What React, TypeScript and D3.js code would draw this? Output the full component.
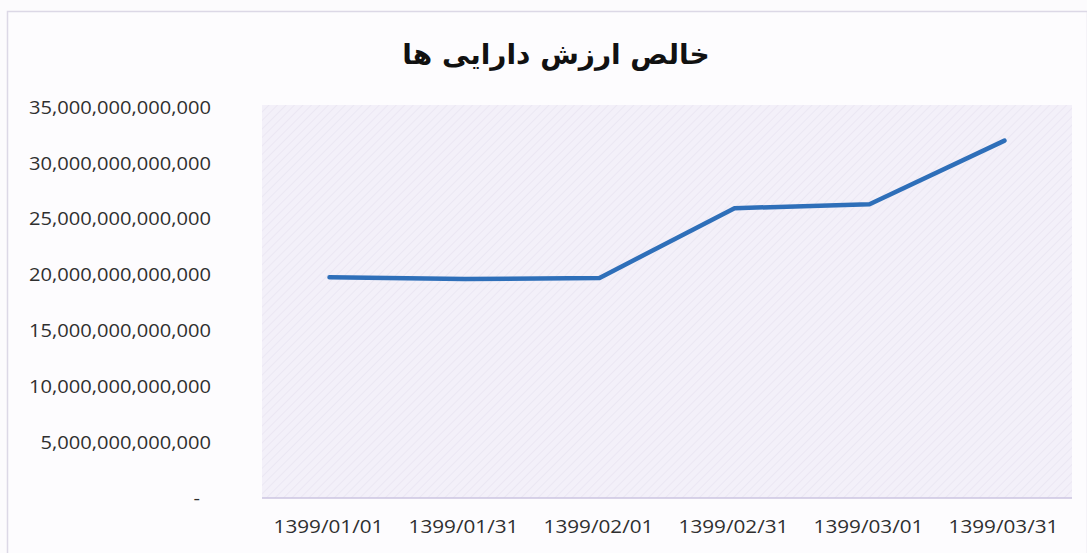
import React from "react";
import * as d3 from "d3";

const title = "خالص ارزش دارایی ها";
const categories = ["1399/01/01", "1399/01/31", "1399/02/01", "1399/02/31", "1399/03/01", "1399/03/31"];
const values = [19.76e12, 19.6e12, 19.7e12, 25.94e12, 26.29e12, 31.99e12];
const yTicks = [0, 5e12, 10e12, 15e12, 20e12, 25e12, 30e12, 35e12];

const W = 1087;
const H = 553;
const M = { left: 262, right: 1072, top: 105, bottom: 498 };

export default function App() {
  const x = d3.scaleBand<string>().domain(categories).range([M.left, M.right]);
  const y = d3.scaleLinear().domain([0, 35e12]).range([M.bottom, 107]);
  const fmt = d3.format(",.0f");
  const line = d3
    .line<number>()
    .x((_, i) => (x(categories[i]) as number) + x.bandwidth() / 2)
    .y((d) => y(d));
  const font = "'Open Sans', 'DejaVu Sans', sans-serif";

  return (
    <div style={{ position: "fixed", left: 0, top: 0 }}>
      <svg width={W} height={H} style={{ display: "block" }}>
        <defs>
          <pattern id="hatch" width="6" height="6" patternUnits="userSpaceOnUse" patternTransform="rotate(45)">
            <rect width="6" height="6" fill="#f3f0f9" />
            <line x1="0" y1="0" x2="0" y2="6" stroke="#ebe7f3" strokeWidth="2" />
          </pattern>
        </defs>
        <rect x={0} y={0} width={W} height={H} fill="#fcfbfd" />
        <rect x={7.5} y={11.5} width={W - 7} height={H} fill="#fdfcfe" stroke="#dcd8e6" strokeWidth={1.5} />
        <rect x={M.left} y={M.top} width={M.right - M.left} height={M.bottom - M.top} fill="url(#hatch)" />
        <line x1={M.left} x2={M.right} y1={M.bottom} y2={M.bottom} stroke="#cbc5e0" strokeWidth={1.5} />
        <text
          x={556}
          y={64}
          textAnchor="middle"
          direction="rtl"
          fontFamily="'DejaVu Sans', sans-serif"
          fontWeight="bold"
          fontSize={28}
          fill="#111"
        >
          {title}
        </text>
        {yTicks.map((t) => {
          const tx = t === 0 ? 200 : 211;
          const ty = y(t);
          return (
            <text
              key={t}
              transform={`translate(${tx},${ty}) scale(1.06,1)`}
              dy="0.35em"
              textAnchor="end"
              fontFamily={font}
              fontSize={19}
              fill="#2f2f2f"
            >
              {t === 0 ? "-" : fmt(t)}
            </text>
          );
        })}
        {categories.map((c) => {
          const cx = (x(c) as number) + x.bandwidth() / 2;
          return (
            <text
              key={c}
              transform={`translate(${cx - 1},526) scale(1.09,1)`}
              dy="0.35em"
              textAnchor="middle"
              fontFamily={font}
              fontSize={19}
              fill="#2f2f2f"
            >
              {c}
            </text>
          );
        })}
        <path d={line(values) || ""} fill="none" stroke="#2e6fb9" strokeWidth={4.5} strokeLinejoin="round" strokeLinecap="round" />
      </svg>
    </div>
  );
}
